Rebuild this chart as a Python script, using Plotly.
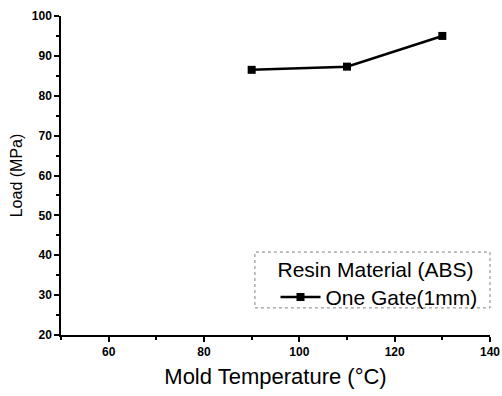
import plotly.graph_objects as go

temps = [90, 110, 130]
loads = [86.5, 87.3, 95.0]
series_name = "One Gate(1mm)"
legend_title = "Resin Material (ABS)"
x_ticks = [60, 80, 100, 120, 140]
y_ticks = [20, 30, 40, 50, 60, 70, 80, 90, 100]

fig = go.Figure()
fig.add_trace(go.Scatter(
    x=temps, y=loads, mode="lines+markers", name=series_name,
    line=dict(color="black", width=2.5),
    marker=dict(symbol="square", size=8, color="black"),
))

font_family = "Liberation Sans, Arial, sans-serif"
fig.update_layout(
    width=502, height=396,
    margin=dict(l=61, r=12, t=16, b=61),
    paper_bgcolor="white", plot_bgcolor="white",
    font=dict(family=font_family, color="black"),
    showlegend=True,
    legend=dict(
        title=dict(text=legend_title, font=dict(size=21, family=font_family)),
        font=dict(size=21, family=font_family),
        x=0.5, xanchor="left", y=0.268, yanchor="top",
        bgcolor="rgba(0,0,0,0)", borderwidth=0,
        itemwidth=40, tracegroupgap=0,
    ),
    xaxis=dict(
        range=[50, 140], tickvals=x_ticks, ticktext=[f"<b>{v}</b>" for v in x_ticks],
        showgrid=False, zeroline=False, automargin=False,
        showline=True, linecolor="black", linewidth=1.5,
        ticks="outside", ticklen=5, tickwidth=1.5, tickcolor="black",
        minor=dict(dtick=10, tick0=50, ticks="outside", ticklen=3, tickcolor="black"),
        tickfont=dict(size=12, family=font_family),
        title=dict(text="Mold Temperature (°C)", font=dict(size=22, family=font_family), standoff=10),
    ),
    yaxis=dict(
        range=[20, 100], tickvals=y_ticks, ticktext=[f"<b>{v}</b>" for v in y_ticks],
        showgrid=False, zeroline=False, automargin=False,
        showline=True, linecolor="black", linewidth=1.5,
        ticks="outside", ticklen=5, tickwidth=1.5, tickcolor="black",
        minor=dict(dtick=5, tick0=20, ticks="outside", ticklen=3, tickcolor="black"),
        tickfont=dict(size=12, family=font_family),
        title=dict(text="Load (MPa)", font=dict(size=16, family=font_family), standoff=5),
    ),
)

fig.add_shape(type="rect", xref="paper", yref="paper",
              x0=0.452, x1=1.0, y0=0.085, y1=0.26,
              line=dict(color="gray", width=1, dash="dot"))

# remove the default page margin so the figure fills the window exactly
fig.write_html(
    "out.html",
    config={"displayModeBar": False},
    post_script="document.body.style.margin='0';document.body.style.overflow='hidden';",
)
